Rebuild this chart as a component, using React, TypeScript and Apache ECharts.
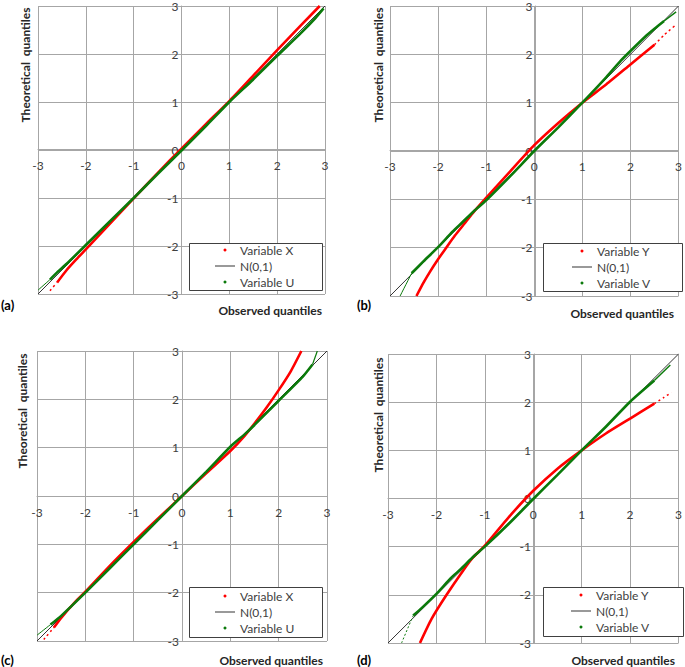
import React, { useEffect, useRef } from "react";
import * as echarts from "echarts";

// Axis ticks (both axes, all panels)
const tickValues = [-3, -2, -1, 0, 1, 2, 3];
const panelLetters = ["(a)", "(b)", "(c)", "(d)"];
const xTitle = "Observed quantiles";
const yTitle = "Theoretical  quantiles";
const refName = "N(0,1)";
const refLine = [[-3, -3], [3, 3]];

// Panel (a): Variable X (red) and Variable U (green)
const aVarXTail = [[-2.75, -2.93], [-2.6, -2.76]];
const aVarX = [[-2.6, -2.76], [-2.4, -2.5], [-2.2, -2.28], [-2.0, -2.07], [-1.5, -1.54], [-1.0, -1.01], [-0.5, -0.48], [0, 0.03], [0.5, 0.53], [1, 1.02], [1.5, 1.55], [2, 2.08], [2.5, 2.6], [2.89, 3.0]];
const aVarUTail = [[-3, -2.92], [-2.75, -2.7]];
const aVarU = [[-2.75, -2.7], [-2.6, -2.55], [-2.4, -2.37], [-2, -1.98], [-1.5, -1.49], [-1, -1], [-0.5, -0.5], [0, -0.01], [0.5, 0.49], [1, 1], [1.5, 1.47], [2, 1.96], [2.5, 2.44], [2.8, 2.75], [2.97, 2.95]];

// Panel (b): Variable Y (red) and Variable V (green)
const bVarY = [[-2.45, -3], [-2.3, -2.72], [-2.17, -2.5], [-2.0, -2.24], [-1.83, -2], [-1.65, -1.75], [-1.45, -1.5], [-1.25, -1.25], [-1.03, -1], [-0.5, -0.42], [0, 0.12], [0.5, 0.58], [1, 1], [1.5, 1.38], [2, 1.79], [2.5, 2.2]];
const bVarYTail = [[2.5, 2.2], [2.7, 2.4], [2.92, 2.59]];
const bVarVTail = [[-2.79, -3], [-2.55, -2.53]];
const bVarV = [[-2.55, -2.53], [-2.3, -2.28], [-2, -1.99], [-1.7, -1.67], [-1.5, -1.48], [-1.25, -1.24], [-1, -1.02], [-0.5, -0.52], [0, 0], [0.5, 0.49], [1, 1], [1.5, 1.53], [1.8, 1.87], [2, 2.07], [2.3, 2.36], [2.5, 2.53], [2.7, 2.69]];
const bVarVTop = [[2.7, 2.69], [2.95, 2.88]];

// Panel (c): Variable X (red) and Variable U (green)
const cVarXTail = [[-2.86, -2.97], [-2.65, -2.72]];
const cVarX = [[-2.65, -2.72], [-2.5, -2.52], [-2.2, -2.18], [-2, -1.98], [-1.5, -1.45], [-1, -0.95], [-0.5, -0.47], [0, 0], [0.5, 0.47], [1, 0.93], [1.3, 1.25], [1.5, 1.5], [1.75, 1.83], [2, 2.19], [2.25, 2.58], [2.47, 3.0]];
const cVarUTail = [[-3, -2.88], [-2.72, -2.66]];
const cVarU = [[-2.72, -2.66], [-2.5, -2.48], [-2, -2.0], [-1.5, -1.5], [-1, -1], [-0.5, -0.5], [0, 0], [0.5, 0.5], [1, 1.02], [1.3, 1.28], [1.5, 1.47], [2, 1.97], [2.5, 2.47], [2.7, 2.72]];
const cVarUTop = [[2.7, 2.72], [2.8, 3.0]];

// Panel (d): Variable Y (red) and Variable V (green)
const dVarY = [[-2.34, -3], [-2.1, -2.5], [-1.79, -2], [-1.45, -1.5], [-1.25, -1.23], [-1, -0.98], [-0.5, -0.38], [0, 0.16], [0.5, 0.62], [1, 1], [1.5, 1.35], [2, 1.66], [2.5, 1.97]];
const dVarYTail = [[2.5, 1.97], [2.7, 2.1], [2.85, 2.2]];
const dVarVTail = [[-2.72, -3], [-2.48, -2.43]];
const dVarV = [[-2.48, -2.43], [-2.3, -2.27], [-2, -1.98], [-1.7, -1.65], [-1.5, -1.47], [-1.25, -1.22], [-1, -1], [-0.5, -0.52], [0, -0.01], [0.5, 0.49], [1, 1], [1.5, 1.49], [2, 2.01], [2.5, 2.45]];
const dVarVTop = [[2.5, 2.45], [2.83, 2.77]];

const RED = "#ff0000";
const GREEN = "#0b7a0b";
const GRID_COLOR = "#a6a6a6";
const TEXT_COLOR = "#404040";
const FONT = "Lato";

const panels = [
  {
    grid: { left: 38, top: 5, width: 287, height: 289 },
    v1: "Variable X", v2: "Variable U",
    red: [{ d: aVarX, w: 2.6 }, { d: aVarXTail, w: 1.5, dash: true }],
    green: [{ d: aVarU, w: 2.6 }, { d: aVarUTail, w: 1 }],
    box: { x: 189, y: 243, w: 133, h: 47 }, legend: { left: 215, top: 244 },
    yTitle: { x: 25, y: 65 }, xTitle: { x: 322, y: 310 }, letter: { x: 1, y: 305 },
  },
  {
    grid: { left: 390, top: 5, width: 291, height: 291 },
    v1: "Variable Y", v2: "Variable V",
    red: [{ d: bVarY, w: 2.6 }, { d: bVarYTail, w: 1.5, dash: true }],
    green: [{ d: bVarV, w: 2.6 }, { d: bVarVTail, w: 1 }, { d: bVarVTop, w: 1.5 }],
    box: { x: 543, y: 243, w: 139, h: 48 }, legend: { left: 572, top: 245 },
    yTitle: { x: 378, y: 65 }, xTitle: { x: 674, y: 313 }, letter: { x: 357, y: 305 },
  },
  {
    grid: { left: 37, top: 351, width: 290, height: 290 },
    v1: "Variable X", v2: "Variable U",
    red: [{ d: cVarX, w: 2.6 }, { d: cVarXTail, w: 1.5, dash: true }],
    green: [{ d: cVarU, w: 2.6 }, { d: cVarUTail, w: 1 }, { d: cVarUTop, w: 1.2 }],
    box: { x: 189, y: 587, w: 133, h: 50 }, legend: { left: 215, top: 590 },
    yTitle: { x: 22, y: 411 }, xTitle: { x: 323, y: 660 }, letter: { x: 1, y: 660 },
  },
  {
    grid: { left: 388, top: 354, width: 292, height: 289 },
    v1: "Variable Y", v2: "Variable V",
    red: [{ d: dVarY, w: 2.6 }, { d: dVarYTail, w: 1.5, dash: true }],
    green: [{ d: dVarV, w: 2.6 }, { d: dVarVTail, w: 1, dash: true }, { d: dVarVTop, w: 1.5 }],
    box: { x: 543, y: 587, w: 140, h: 49 }, legend: { left: 571, top: 589 },
    yTitle: { x: 378, y: 415 }, xTitle: { x: 675, y: 660 }, letter: { x: 357, y: 660 },
  },
];

function buildOption() {
  const grids: any[] = [];
  const xAxes: any[] = [];
  const yAxes: any[] = [];
  const series: any[] = [];
  const legends: any[] = [];
  const graphics: any[] = [];

  panels.forEach((p, i) => {
    grids.push({ ...p.grid, containLabel: false });
    const common = {
      type: "value",
      gridIndex: i,
      min: tickValues[0],
      max: tickValues[tickValues.length - 1],
      interval: 1,
      axisTick: { show: false },
      splitLine: { show: true, lineStyle: { color: GRID_COLOR, width: 1 } },
    };
    // axes cross at zero: the range is symmetric, so zero sits at the middle of the grid
    xAxes.push({
      ...common,
      position: "bottom",
      offset: -p.grid.height / 2,
      axisLine: { show: true, onZero: false, lineStyle: { color: GRID_COLOR, width: 1 } },
      axisLabel: { margin: 10, color: TEXT_COLOR, fontSize: 12, fontFamily: FONT },
    });
    yAxes.push({
      ...common,
      position: "left",
      offset: -p.grid.width / 2,
      axisLine: { show: true, onZero: false, lineStyle: { color: GRID_COLOR, width: 1 } },
      axisLabel: { margin: 3, color: TEXT_COLOR, fontSize: 12, fontFamily: FONT },
    });

    series.push({
      type: "line", name: refName, xAxisIndex: i, yAxisIndex: i, data: refLine,
      symbol: "none", color: "#333333", itemStyle: { color: "#333333" },
      lineStyle: { color: "#333333", width: 1 }, silent: true, z: 2,
    });
    p.red.forEach((s: any) => {
      series.push({
        type: "line", name: p.v1, xAxisIndex: i, yAxisIndex: i, data: s.d,
        symbol: "none", smooth: 0.2, color: RED, itemStyle: { color: RED },
        lineStyle: { color: RED, width: s.w, type: s.dash ? [2, 3] : "solid" }, silent: true, z: 3,
      });
    });
    p.green.forEach((s: any) => {
      series.push({
        type: "line", name: p.v2, xAxisIndex: i, yAxisIndex: i, data: s.d,
        symbol: "none", smooth: 0.2, color: GREEN, itemStyle: { color: GREEN },
        lineStyle: { color: GREEN, width: s.w, type: s.dash ? [2, 2] : "solid" }, silent: true, z: 4,
      });
    });

    legends.push({
      orient: "vertical",
      left: p.legend.left,
      top: p.legend.top,
      padding: 0,
      itemWidth: 20,
      itemHeight: 3,
      itemGap: 4,
      selectedMode: false,
      z: 10,
      textStyle: { fontSize: 12, color: TEXT_COLOR, fontFamily: FONT },
      data: [
        { name: p.v1, icon: "circle" },
        { name: refName, icon: "path://M0,0H20V1H0Z" },
        { name: p.v2, icon: "circle" },
      ],
    });

    graphics.push({
      type: "rect", z: 8,
      shape: { x: p.box.x + 0.5, y: p.box.y + 0.5, width: p.box.w, height: p.box.h },
      style: { fill: "#ffffff", stroke: "#404040", lineWidth: 1 },
    });
    graphics.push({
      type: "text", z: 8, x: p.yTitle.x, y: p.yTitle.y, rotation: Math.PI / 2,
      style: { text: yTitle, font: `bold 12px ${FONT}`, fill: "#262626", align: "center", verticalAlign: "middle" },
    });
    graphics.push({
      type: "text", z: 8, x: p.xTitle.x, y: p.xTitle.y,
      style: { text: xTitle, font: `bold 12px ${FONT}`, fill: "#262626", align: "right", verticalAlign: "middle" },
    });
    graphics.push({
      type: "text", z: 8, x: p.letter.x, y: p.letter.y,
      style: { text: panelLetters[i], font: `bold 13px ${FONT}`, fill: "#000000", align: "left", verticalAlign: "middle" },
    });
  });

  return {
    animation: false,
    backgroundColor: "#ffffff",
    grid: grids,
    xAxis: xAxes,
    yAxis: yAxes,
    series,
    legend: legends,
    graphic: { elements: graphics },
  };
}

export default function App() {
  const ref = useRef<HTMLDivElement>(null);
  useEffect(() => {
    if (!ref.current) return;
    const chart = echarts.init(ref.current, null, { renderer: "svg" });
    chart.setOption(buildOption() as any);
    return () => chart.dispose();
  }, []);
  return (
    <div
      ref={ref}
      style={{ position: "absolute", left: 0, top: 0, width: 685, height: 667, background: "#fff" }}
    />
  );
}
